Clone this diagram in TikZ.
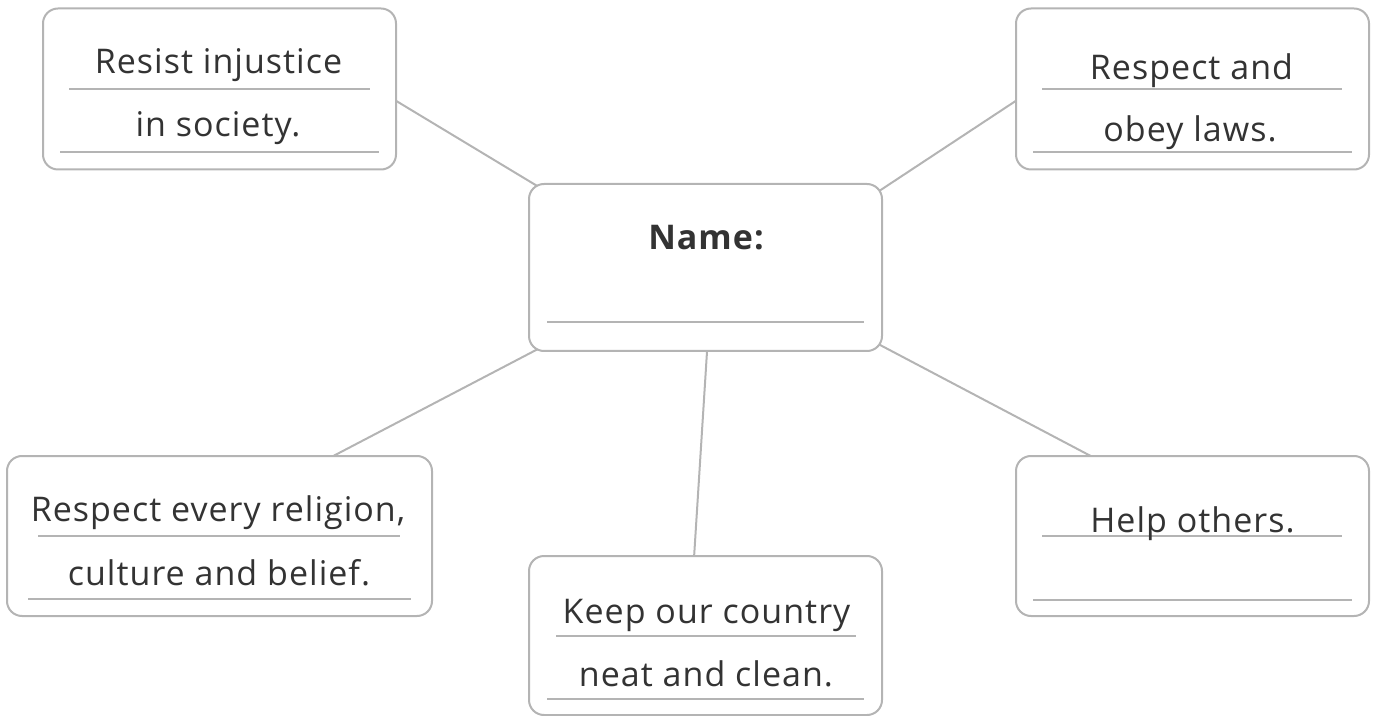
\documentclass[tikz,border=0pt]{standalone}
\usepackage{fontspec}
\setmainfont{Open Sans}[LetterSpace=3]
\usetikzlibrary{backgrounds}

\definecolor{rulegray}{HTML}{B4B4B4}
\definecolor{inkgray}{HTML}{333333}

\tikzset{
    box/.style={draw=rulegray, line width=1pt, rounded corners=7.5pt, fill=white,
        minimum width=176.5pt, minimum height=80.5pt, inner sep=0pt},
    rule/.style={draw=rulegray, line width=1.1pt},
    link/.style={draw=rulegray, line width=1pt, shorten <=-5pt, shorten >=-5pt},
    txt/.style={text=inkgray, font=\fontsize{17pt}{20pt}\selectfont, anchor=base, inner sep=0pt}
}

\begin{document}
\begin{tikzpicture}[x=0.5pt,y=-0.5pt]
\useasboundingbox (0,0) rectangle (1375,716);

% Boxes
\node[box] (tl) at (219.5,89) {};
\node[box] (tr) at (1192.5,89) {};
\node[box, minimum height=83.5pt] (name) at (705.5,267.5) {};
\node[box, minimum width=212.5pt, minimum height=80pt] (bl) at (219.5,536) {};
\node[box, minimum height=79.5pt] (bc) at (705.5,635.5) {};
\node[box, minimum height=80pt] (br) at (1192.5,536) {};

% Writing lines
\foreach \xa/\xb/\y in {69/370/89, 60/379/152, 1042/1342/89, 1033/1352/152,
    547/864/322, 38/400/536, 28/411/599, 556/856/636, 547/864/699,
    1042/1342/536, 1033/1352/600} {
    \draw[rule] (\xa,\y) -- (\xb,\y);
}

% Texts
\node[txt] (tl1) at (218.5,74) {Resist injustice};
\node[txt] (tl2) at (218,137) {in society.};
\node[txt] (tr1) at (1191.5,80) {Respect and};
\node[txt] (tr2) at (1190,142) {obey laws.};
\node[txt, font=\fontsize{17pt}{20pt}\selectfont\bfseries] (nm) at (706,250) {Name:};
\node[txt] (bl1) at (218,521.5) {Respect every religion,};
\node[txt] (bl2) at (219,585.5) {culture and belief.};
\node[txt] (bc1) at (706.5,623) {Keep our country};
\node[txt] (bc2) at (706,686.5) {neat and clean.};
\node[txt] (br1) at (1192.5,532.5) {Help others.};

% Connectors
\begin{scope}[on background layer]
\draw[link] (tl.-4.5) -- (name.154.7);
\draw[link] (tr.184.5) -- (name.24.7);
\draw[link] (name.206.2) -- (bl.35.9);
\draw[link] (name.-89.8) -- (bc.98.9);
\draw[link] (name.-24.4) -- (br.142.7);
\end{scope}
\end{tikzpicture}
\end{document}
